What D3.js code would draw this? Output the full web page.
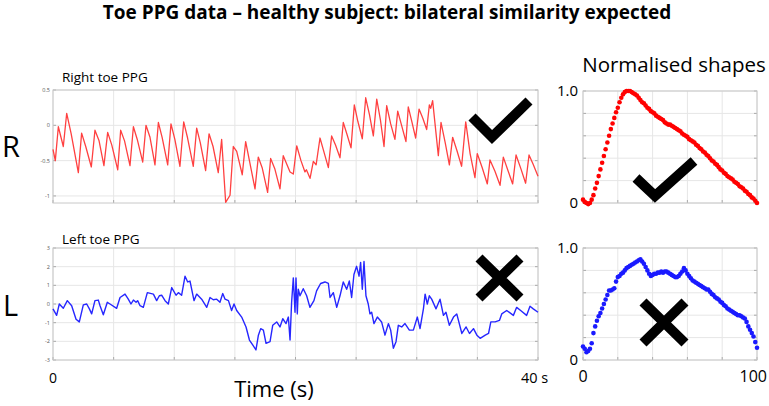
<!DOCTYPE html>
<html>
<head>
<meta charset="utf-8">
<script src="https://cdn.jsdelivr.net/npm/d3@7"></script>
<style>
  body { margin: 0; background: #fff; }
  svg { display: block; font-family: "Open Sans", sans-serif; }
</style>
</head>
<body>
<div id="chart"></div>
<script>
// Right toe PPG (red), time in s and amplitude
const rightTime = [0,0.19,0.44,0.85,1.13,1.5,2.09,2.36,2.7,3.16,3.46,3.8,4.2,4.51,4.85,5.34,5.58,5.9,6.35,6.63,6.95,7.4,7.67,8.0,8.41,8.69,9.0,9.46,9.73,10.05,10.47,10.78,11.1,11.57,11.85,12.15,12.59,12.87,13.2,13.63,13.91,14.24,14.6,14.87,15.15,15.61,15.89,16.2,16.66,16.93,17.25,17.7,17.95,18.3,18.72,18.99,19.55,19.82,20.1,20.45,20.78,20.9,21.2,21.47,21.7,22.02,22.35,22.71,22.98,23.3,23.67,23.94,24.25,24.58,24.85,25.15,25.51,25.79,26.1,26.42,26.7,27.0,27.3,27.52,27.85,28.2,28.43,28.75,29.11,29.3,29.6,29.91,30.19,30.5,30.82,31.04,31.15,31.31,31.78,32.0,32.35,32.69,32.96,33.3,33.7,34.04,34.4,34.8,34.99,35.4,35.82,36.04,36.45,36.87,37.14,37.5,37.91,38.19,38.6,38.98,39.26,39.6,40];
const rightPPG = [-0.34,-0.5,-0.02,-0.3,0.17,-0.12,-0.67,-0.11,-0.3,-0.59,-0.07,-0.22,-0.57,-0.1,-0.28,-0.63,-0.07,-0.22,-0.57,-0.02,-0.2,-0.52,0.0,-0.17,-0.56,0.04,-0.17,-0.56,0.02,-0.2,-0.58,0.05,-0.18,-0.58,-0.04,-0.25,-0.64,-0.12,-0.3,-0.67,-0.2,-1.09,-0.99,-0.3,-0.37,-0.7,-0.23,-0.5,-0.9,-0.45,-0.6,-0.95,-0.47,-0.62,-0.9,-0.43,-0.66,-0.69,-0.29,-0.5,-0.66,-0.63,-0.75,-0.51,-0.56,-0.18,-0.38,-0.6,-0.15,-0.28,-0.46,0.04,-0.13,-0.32,0.29,0.05,-0.19,0.39,0.15,-0.15,0.37,0.08,-0.3,0.28,0.02,-0.2,0.2,0.0,-0.23,0.26,0.05,-0.18,0.23,0.1,-0.06,0.29,0.24,0.35,-0.43,0.04,-0.25,-0.56,-0.17,-0.35,-0.58,0.05,-0.4,-0.74,-0.4,-0.6,-0.83,-0.49,-0.65,-0.85,-0.45,-0.63,-0.83,-0.42,-0.62,-0.82,-0.42,-0.55,-0.72];

// Left toe PPG (blue)
const leftTime = [0,0.3,0.52,0.85,1.18,1.54,1.9,2.17,2.5,2.78,3.0,3.19,3.46,3.74,3.88,4.15,4.48,4.7,5.25,5.53,5.94,6.21,6.43,6.63,6.85,6.98,7.18,7.45,7.78,8.28,8.55,8.77,8.96,9.24,9.51,9.79,10.15,10.34,10.61,10.89,11.11,11.3,11.63,11.85,12.26,12.68,12.95,13.22,13.5,13.77,14.0,14.19,14.47,14.73,14.93,15.15,15.56,15.92,16.2,16.47,16.74,16.94,17.13,17.35,17.57,17.9,18.12,18.45,18.72,18.95,19.22,19.41,19.55,19.68,19.82,19.96,20.04,20.15,20.23,20.37,20.64,20.92,21.19,21.52,21.74,22.07,22.43,22.71,22.85,23.12,23.4,23.67,23.94,24.22,24.44,24.63,24.82,25.04,25.24,25.37,25.51,25.65,25.81,26.0,26.14,26.28,26.47,26.75,27.1,27.38,27.66,27.85,28.07,28.29,28.48,28.76,29.03,29.39,29.72,30.05,30.27,30.55,30.69,30.87,31.04,31.23,31.59,31.92,32.2,32.41,32.69,33.03,33.3,33.72,34.07,34.35,34.68,34.96,35.23,35.65,35.92,36.11,36.46,36.82,37.01,37.42,37.97,38.24,38.57,39.06,39.34,39.61,40];
const leftPPG = [-0.26,-0.61,0,-0.23,0.18,-0.09,-0.82,-0.96,-0.05,0,-0.26,-0.53,0.18,0.21,-0.09,-0.58,0.09,0,-0.23,0.35,0.53,0.26,0,0.21,0.09,0.18,-0.09,-0.18,0.61,0.53,0.18,0.44,0.47,0.18,0,0.88,0.47,0.61,0.47,1.49,1.18,1.23,0.18,0.53,0.26,-0.18,0.35,0.23,0.26,0.09,0.56,0.26,0.18,-0.35,0,-0.35,-0.7,-1.23,-1.93,-2.19,-2.46,-1.67,-1.32,-1.4,-2.11,-2.02,-1.14,-0.96,-1.23,-0.79,-1.05,-0.7,-1.93,0.09,1.4,-0.44,1.4,-0.53,0.79,0.44,0.82,0.44,-0.18,0.18,0.7,1.1,1.18,1.1,0.35,0.61,-0.18,0.44,1.18,0.79,1.23,0.35,1.58,2.02,1.49,2.23,0.79,2.28,0.44,0,-0.53,-0.44,-1.05,-0.7,-0.96,-1.67,-1.05,-1.4,-2.37,-2.02,-1.14,-1.23,-1.05,-1.4,-1.4,-0.7,-1.32,-0.26,0.53,0,0.44,0.26,-0.26,0.26,-0.61,-0.44,-1.14,-0.7,-0.53,-1.58,-1.23,-1.58,-1.32,-1.67,-1.84,-1.67,-1.58,-0.96,-0.96,-0.88,-0.53,-0.35,-0.61,-0.18,-0.35,-0.61,-0.12,-0.26,-0.44];

// Normalised pulse shapes, sampled at 0..100 % of the beat
const shapeRight = [0.03,0.01,0.0,-0.01,0.0,0.03,0.07,0.13,0.18,0.24,0.30,0.36,0.42,0.48,0.54,0.60,0.66,0.71,0.76,0.81,0.85,0.90,0.94,0.97,0.99,1.0,1.0,1.0,0.99,0.98,0.97,0.96,0.94,0.92,0.90,0.89,0.87,0.85,0.84,0.82,0.81,0.80,0.78,0.77,0.76,0.75,0.74,0.72,0.71,0.70,0.70,0.69,0.68,0.67,0.66,0.65,0.64,0.62,0.61,0.60,0.59,0.57,0.56,0.55,0.54,0.52,0.51,0.49,0.48,0.46,0.45,0.43,0.42,0.40,0.38,0.37,0.35,0.34,0.32,0.30,0.29,0.27,0.26,0.24,0.23,0.22,0.21,0.19,0.18,0.17,0.15,0.14,0.13,0.11,0.10,0.08,0.07,0.05,0.04,0.02,0.0];
const shapeLeft = [0.12,0.10,0.07,0.08,0.10,0.15,0.24,0.30,0.35,0.39,0.42,0.46,0.50,0.54,0.58,0.62,0.62,0.63,0.64,0.70,0.74,0.75,0.77,0.78,0.80,0.82,0.83,0.84,0.85,0.86,0.87,0.88,0.89,0.90,0.88,0.86,0.83,0.80,0.77,0.75,0.76,0.77,0.77,0.78,0.78,0.79,0.78,0.79,0.79,0.78,0.77,0.76,0.75,0.74,0.74,0.75,0.77,0.79,0.82,0.80,0.77,0.75,0.73,0.71,0.70,0.69,0.68,0.67,0.66,0.65,0.64,0.63,0.63,0.61,0.59,0.58,0.56,0.55,0.54,0.52,0.51,0.49,0.48,0.46,0.45,0.44,0.43,0.42,0.41,0.40,0.40,0.39,0.38,0.37,0.34,0.30,0.27,0.24,0.21,0.16,0.11];

const timeTicks = [0,5,10,15,20,25,30,35,40];
const rightTicks = [-1,-0.5,0,0.5];
const leftTicks = [-3,-2,-1,0,1,2,3];
const shapeXTicks = [0,20,40,60,80,100];
const shapeYTicks = [0,0.2,0.4,0.6,0.8,1.0];

const width = 769, height = 406;
const svg = d3.select("#chart").append("svg")
    .attr("width", width)
    .attr("height", height);

const gridColor = "#e6e6e6", boxColor = "#c8c8c8";

// draw a matlab-like framed panel; returns the x/y scales
function panel(x0, x1, y0, y1, xDomain, yDomain, xTicks, yTicks, tickLabels) {
  const x = d3.scaleLinear(xDomain, [x0, x1]);
  const y = d3.scaleLinear(yDomain, [y1, y0]);
  const g = svg.append("g");
  g.selectAll(".vg").data(xTicks).join("line")
      .attr("x1", d => x(d)).attr("x2", d => x(d))
      .attr("y1", y0).attr("y2", y1)
      .attr("stroke", gridColor);
  g.selectAll(".hg").data(yTicks).join("line")
      .attr("x1", x0).attr("x2", x1)
      .attr("y1", d => y(d)).attr("y2", d => y(d))
      .attr("stroke", gridColor);
  // small tick marks on the frame
  g.selectAll(".xt").data(xTicks).join("line")
      .attr("x1", d => x(d)).attr("x2", d => x(d))
      .attr("y1", y1).attr("y2", y1 - 3)
      .attr("stroke", "#aaa");
  g.selectAll(".yt").data(yTicks).join("line")
      .attr("x1", x1).attr("x2", x1 - 3)
      .attr("y1", d => y(d)).attr("y2", d => y(d))
      .attr("stroke", "#aaa");
  g.selectAll(".yt2").data(yTicks).join("line")
      .attr("x1", x0).attr("x2", x0 + 3)
      .attr("y1", d => y(d)).attr("y2", d => y(d))
      .attr("stroke", "#aaa");
  g.append("rect")
      .attr("x", x0).attr("y", y0)
      .attr("width", x1 - x0).attr("height", y1 - y0)
      .attr("fill", "none").attr("stroke", boxColor);
  if (tickLabels) {
    g.selectAll(".yl").data(yTicks).join("text")
        .attr("x", x0 - 3).attr("y", d => y(d) + 2)
        .attr("text-anchor", "end")
        .attr("font-size", 5.5).attr("fill", "#555")
        .text(d => d);
  }
  return {x, y, g};
}

// title
svg.append("text")
    .attr("x", 387).attr("y", 19)
    .attr("text-anchor", "middle")
    .attr("font-size", 19).attr("font-weight", "bold")
    .text("Toe PPG data \u2013 healthy subject: bilateral similarity expected");

// Right toe panel
const pR = panel(53, 538, 90, 203, [0, 40], [-1.1, 0.5], timeTicks, rightTicks, true);
pR.g.append("path")
    .datum(d3.zip(rightTime, rightPPG))
    .attr("fill", "none").attr("stroke", "#ff4040").attr("stroke-width", 1.3)
    .attr("stroke-linejoin", "round")
    .attr("d", d3.line().x(d => pR.x(d[0])).y(d => pR.y(d[1])));

// Left toe panel
const pL = panel(53, 538, 248, 360, [0, 40], [-3, 3], timeTicks, leftTicks, true);
pL.g.append("path")
    .datum(d3.zip(leftTime, leftPPG))
    .attr("fill", "none").attr("stroke", "#2626ff").attr("stroke-width", 1.4)
    .attr("stroke-linejoin", "round")
    .attr("d", d3.line().x(d => pL.x(d[0])).y(d => pL.y(d[1])));

svg.append("text").attr("x", 62).attr("y", 82).attr("font-size", 13.5).text("Right toe PPG");
svg.append("text").attr("x", 62).attr("y", 244).attr("font-size", 13.5).text("Left toe PPG");
svg.append("text").attr("x", 2).attr("y", 157).attr("font-size", 29).text("R");
svg.append("text").attr("x", 3).attr("y", 316).attr("font-size", 29).text("L");
svg.append("text").attr("x", pL.x(0)).attr("y", 383).attr("text-anchor", "middle").attr("font-size", 14).text("0");
svg.append("text").attr("x", 521).attr("y", 383).attr("font-size", 14.5).text("40 s");
svg.append("text").attr("x", 274).attr("y", 397).attr("text-anchor", "middle").attr("font-size", 22).text("Time (s)");

// Normalised shapes
const idx = d3.range(shapeRight.length);
const sR = panel(583, 757, 91, 203, [0, 100], [0, 1], shapeXTicks, shapeYTicks, false);
sR.g.selectAll("circle").data(idx).join("circle")
    .attr("cx", i => sR.x(i)).attr("cy", i => sR.y(shapeRight[i]))
    .attr("r", 2.3).attr("fill", "#ff0000");
const sL = panel(583, 757, 248, 360, [0, 100], [0, 1], shapeXTicks, shapeYTicks, false);
sL.g.selectAll("circle").data(idx).join("circle")
    .attr("cx", i => sL.x(i)).attr("cy", i => sL.y(shapeLeft[i]))
    .attr("r", 2.3).attr("fill", "#1a1aff");

svg.append("text").attr("x", 674).attr("y", 72).attr("text-anchor", "middle").attr("font-size", 20.5).text("Normalised shapes");
[[sR, 91, 203], [sL, 248, 360]].forEach(([p, top, bot]) => {
  svg.append("text").attr("x", 578).attr("y", top + 5).attr("text-anchor", "end").attr("font-size", 15).text("1.0");
  svg.append("text").attr("x", 578).attr("y", bot + 5).attr("text-anchor", "end").attr("font-size", 15).text("0");
});
svg.append("text").attr("x", sL.x(0)).attr("y", 382).attr("text-anchor", "middle").attr("font-size", 16).text("0");
svg.append("text").attr("x", 767).attr("y", 382).attr("text-anchor", "end").attr("font-size", 16).text("100");

// tick and cross annotations
const mark = svg.append("g").attr("fill", "none").attr("stroke", "#000")
    .attr("stroke-width", 10).attr("stroke-linecap", "butt");
mark.append("path").attr("d", "M472,117L492,137L529,101");
mark.append("path").attr("d", "M636,178L655,196L694,161");
mark.append("path").attr("d", "M479,258L520,298M520,258L479,298");
mark.append("path").attr("d", "M643,302L685,343M685,302L643,343");
</script>
</body>
</html>
